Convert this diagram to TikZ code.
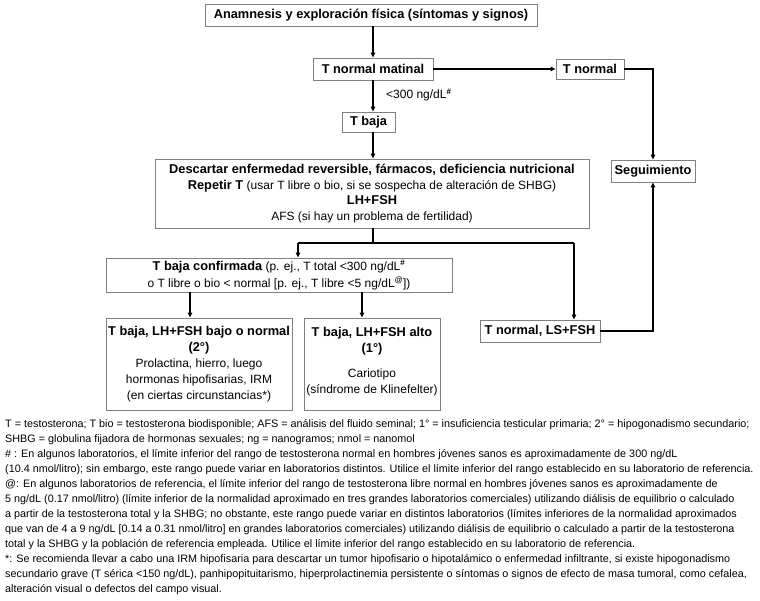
\documentclass[tikz,border=0pt]{standalone}
\usepackage{fontspec}
\setmainfont{Liberation Sans}
\usetikzlibrary{arrows.meta}
\begin{document}
\begin{tikzpicture}[x=1pt,y=-1pt,
  box/.style={draw=black!50, line width=0.9pt, fill=white, inner sep=0pt, align=center,
              font=\fontsize{12}{16}\selectfont},
  bx/.style={font=\fontsize{12.8}{16}\selectfont\bfseries},
  bt/.style={font=\fontsize{12.8}{16}\selectfont\bfseries},
  conn/.style={line width=1.5pt, draw=black},
  arr/.style={conn, -{Triangle[length=5pt,width=4.5pt]}},
  lab/.style={inner sep=0pt, font=\fontsize{12}{14}\selectfont},
  notes/.style={inner sep=0pt, align=left, font=\fontsize{10.8}{15}\selectfont}
]
\fill[white] (0,0) rectangle (760,600);
\useasboundingbox (0,0) rectangle (760,600);

\newcommand{\bb}[1]{{\fontsize{12.8}{16}\selectfont\bfseries #1}}

% boxes
\node[box,bx,minimum width=332pt,minimum height=22pt] (top) at (371,15)
  {Anamnesis y exploración física (síntomas y signos)};
\node[box,bx,minimum width=120pt,minimum height=22pt] (matinal) at (373,69) {T normal matinal};
\node[box,bx,minimum width=68pt,minimum height=20pt] (tnormal) at (590,69) {T normal};
\node[box,bx,minimum width=53pt,minimum height=20pt] (tbaja) at (368.5,122) {T baja};
\node[box,minimum width=434pt,minimum height=69pt,font=\fontsize{12}{15.5}\selectfont] (big) at (372,193.5)
  {\bb{Descartar enfermedad reversible, fármacos, deficiencia nutricional}\\
   \bb{Repetir T} (usar T libre o bio, si se sospecha de alteración de SHBG)\\
   \bb{LH+FSH}\\
   AFS (si hay un problema de fertilidad)};
\node[box,bx,minimum width=84pt,minimum height=22pt] (seg) at (653,171) {Seguimiento};
\node[box,minimum width=346pt,minimum height=34pt,font=\fontsize{12}{17}\selectfont] (confirm) at (279,275)
  {\bb{T baja confirmada} (p. ej., T total <300 ng/dL\textsuperscript{\textbf{\#}}\\
   o T libre o bio < normal [p. ej., T libre <5 ng/dL\textsuperscript{\textbf{@}}])};
\node[box,minimum width=186pt,minimum height=92pt] (left) at (199,364)
  {\bb{T baja, LH+FSH bajo o normal}\\
   \bb{(2°)}\\
   Prolactina, hierro, luego\\
   hormonas hipofisarias, IRM\\
   (en ciertas circunstancias*)};
\node[box,minimum width=136pt,minimum height=92pt] (mid) at (372,364)
  {\bb{T baja, LH+FSH alto}\\
   \bb{(1°)}\\[9pt]
   Cariotipo\\
   (síndrome de Klinefelter)\\[-9pt]};
\node[box,bx,minimum width=120pt,minimum height=22pt] (tnls) at (540,331) {T normal, LS+FSH};

% label
\node[lab,anchor=west] (thr) at (386,95) {<300 ng/dL\textsuperscript{\textbf{\#}}};

% helper coordinates
\coordinate (split) at (373,243);
\coordinate (jl) at (298,243);
\coordinate (jr) at (574,243);
\coordinate (al) at (190,300);
\coordinate (am) at (362,300);

% connectors
\draw[arr] (matinal.north |- top.south) -- (matinal.north);
\draw[arr] (matinal.east) -- (tnormal.west);
\draw[arr] (matinal.south) -- (matinal.south |- tbaja.north);
\draw[arr] (matinal.south |- tbaja.south) -- (matinal.south |- big.north);
\draw[conn] (split |- big.south) -- (split);
\draw[conn] (jl) -- (jr);
\draw[arr] (jl) -- (jl |- confirm.north);
\draw[arr] (jr) -- (jr |- tnls.north);
\draw[arr] (al |- confirm.south) -- (al |- left.north);
\draw[arr] (am |- confirm.south) -- (am |- mid.north);
\draw[arr] (tnormal.east) -| (seg.north);
\draw[arr] (tnls.east) -| (seg.south);

% notes
\node[notes,anchor=north west] (fn) at (5,419) {%
T = testosterona; T bio = testosterona biodisponible; AFS = análisis del fluido seminal; 1° = insuficiencia testicular primaria; 2° = hipogonadismo secundario;\\
SHBG = globulina fijadora de hormonas sexuales; ng = nanogramos; nmol = nanomol\\
\# : En algunos laboratorios, el límite inferior del rango de testosterona normal en hombres jóvenes sanos es aproximadamente de 300 ng/dL\\
(10.4 nmol/litro); sin embargo, este rango puede variar en laboratorios distintos. Utilice el límite inferior del rango establecido en su laboratorio de referencia.\\
@: En algunos laboratorios de referencia, el límite inferior del rango de testosterona libre normal en hombres jóvenes sanos es aproximadamente de\\
5 ng/dL (0.17 nmol/litro) (límite inferior de la normalidad aproximado en tres grandes laboratorios comerciales) utilizando diálisis de equilibrio o calculado\\
a partir de la testosterona total y la SHBG; no obstante, este rango puede variar en distintos laboratorios (límites inferiores de la normalidad aproximados\\
que van de 4 a 9 ng/dL {[0.14 a 0.31 nmol/litro]} en grandes laboratorios comerciales) utilizando diálisis de equilibrio o calculado a partir de la testosterona\\
total y la SHBG y la población de referencia empleada. Utilice el límite inferior del rango establecido en su laboratorio de referencia.\\
*: Se recomienda llevar a cabo una IRM hipofisaria para descartar un tumor hipofisario o hipotalámico o enfermedad infiltrante, si existe hipogonadismo\\
secundario grave (T sérica <150 ng/dL), panhipopituitarismo, hiperprolactinemia persistente o síntomas o signos de efecto de masa tumoral, como cefalea,\\
alteración visual o defectos del campo visual.};
\end{tikzpicture}
\end{document}
